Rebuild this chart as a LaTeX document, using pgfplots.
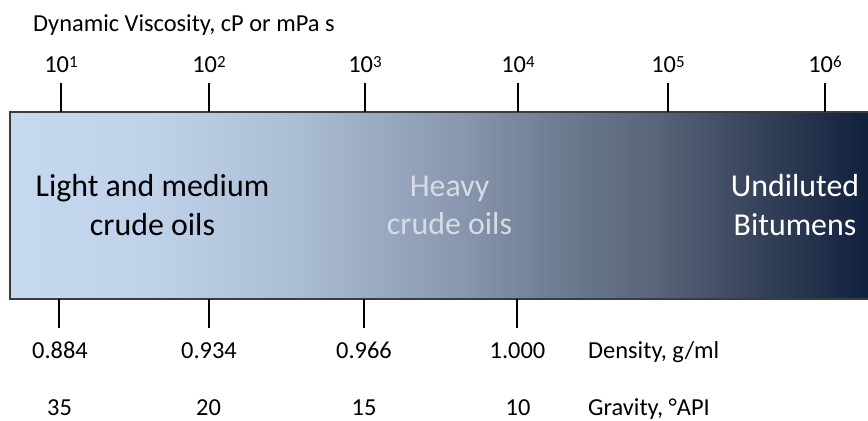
\documentclass[border=0pt]{standalone}
\usepackage{pgfplots}
\pgfplotsset{compat=1.18}
\usepackage{fontspec}
\setmainfont{Carlito}
\definecolor{g0}{RGB}{198,217,240}
\definecolor{g1}{RGB}{192,210,234}
\definecolor{g2}{RGB}{170,187,212}
\definecolor{g3}{RGB}{138,153,177}
\definecolor{g4}{RGB}{111,125,147}
\definecolor{g5}{RGB}{88,101,122}
\definecolor{g6}{RGB}{55,68,92}
\definecolor{g7}{RGB}{18,33,62}
\definecolor{heavytxt}{RGB}{215,220,228}
\definecolor{framec}{RGB}{60,60,60}
\pgfdeclarehorizontalshading{oil}{100bp}{color(0bp)=(g0); color(25bp)=(g0); color(33.1bp)=(g1); color(41.9bp)=(g2); color(50.6bp)=(g3); color(56.4bp)=(g4); color(62.2bp)=(g5); color(68bp)=(g6); color(74.4bp)=(g7); color(75bp)=(g7); color(100bp)=(g7)}
\newcommand{\sm}{\fontsize{24.5}{28}\selectfont}
\newcommand{\bg}{\fontsize{32}{38}\selectfont}
\newcommand{\pw}[1]{\raisebox{5bp}{\fontsize{17}{17}\selectfont #1}}
\begin{document}
\begin{tikzpicture}[every node/.style={inner sep=0pt}]
\useasboundingbox (0,0) rectangle (868bp,421bp);
\begin{axis}[
  at={(0,0)}, anchor=south west,
  scale only axis, width=868bp, height=421bp,
  xmin=0, xmax=868, ymin=0, ymax=421, y dir=reverse,
  axis lines=none, clip=true,
]
% bar
\addplot[shading=oil, draw=framec, line width=1.5bp] coordinates {(10,112) (875,112) (875,299) (10,299)} -- cycle;
% top ticks (viscosity decades)
\addplot[black, line width=2bp] coordinates {(61,83) (61,112)};
\addplot[black, line width=2bp] coordinates {(209,83) (209,112)};
\addplot[black, line width=2bp] coordinates {(365,83) (365,112)};
\addplot[black, line width=2bp] coordinates {(518,83) (518,112)};
\addplot[black, line width=2bp] coordinates {(668,83) (668,112)};
\addplot[black, line width=2bp] coordinates {(825,83) (825,112)};
% bottom ticks (density)
\addplot[black, line width=2bp] coordinates {(59,299) (59,328)};
\addplot[black, line width=2bp] coordinates {(209,299) (209,328)};
\addplot[black, line width=2bp] coordinates {(364,299) (364,328)};
\addplot[black, line width=2bp] coordinates {(517,299) (517,328)};
% texts
\node[anchor=base west, font=\sm] at (axis cs:33,32) {Dynamic Viscosity, cP or mPa s};
\node[anchor=base, font=\sm] at (axis cs:61,73) {10\pw{1}};
\node[anchor=base, font=\sm] at (axis cs:209,73) {10\pw{2}};
\node[anchor=base, font=\sm] at (axis cs:365,73) {10\pw{3}};
\node[anchor=base, font=\sm] at (axis cs:518,73) {10\pw{4}};
\node[anchor=base, font=\sm] at (axis cs:668,73) {10\pw{5}};
\node[anchor=base, font=\sm] at (axis cs:825,73) {10\pw{6}};
\node[anchor=base, font=\sm] at (axis cs:60,358) {0.884};
\node[anchor=base, font=\sm] at (axis cs:209,358) {0.934};
\node[anchor=base, font=\sm] at (axis cs:364,358) {0.966};
\node[anchor=base, font=\sm] at (axis cs:517.5,358) {1.000};
\node[anchor=base west, font=\sm] at (axis cs:588,358) {Density, g/ml};
\node[anchor=base, font=\sm] at (axis cs:59.5,415) {35};
\node[anchor=base, font=\sm] at (axis cs:208.5,415) {20};
\node[anchor=base, font=\sm] at (axis cs:364,415) {15};
\node[anchor=base, font=\sm] at (axis cs:518,415) {10};
\node[anchor=base west, font=\sm] at (axis cs:588,415) {Gravity, °API};
\node[anchor=base, font=\bg] at (axis cs:152.5,196) {Light and medium};
\node[anchor=base, font=\bg] at (axis cs:152.5,235) {crude oils};
\node[anchor=base, font=\bg, text=heavytxt] at (axis cs:449.5,196) {Heavy};
\node[anchor=base, font=\bg, text=heavytxt] at (axis cs:449.5,234) {crude oils};
\node[anchor=base, font=\bg, text=white] at (axis cs:795,196) {Undiluted};
\node[anchor=base, font=\bg, text=white] at (axis cs:795,235) {Bitumens};
\end{axis}
\end{tikzpicture}
\end{document}
